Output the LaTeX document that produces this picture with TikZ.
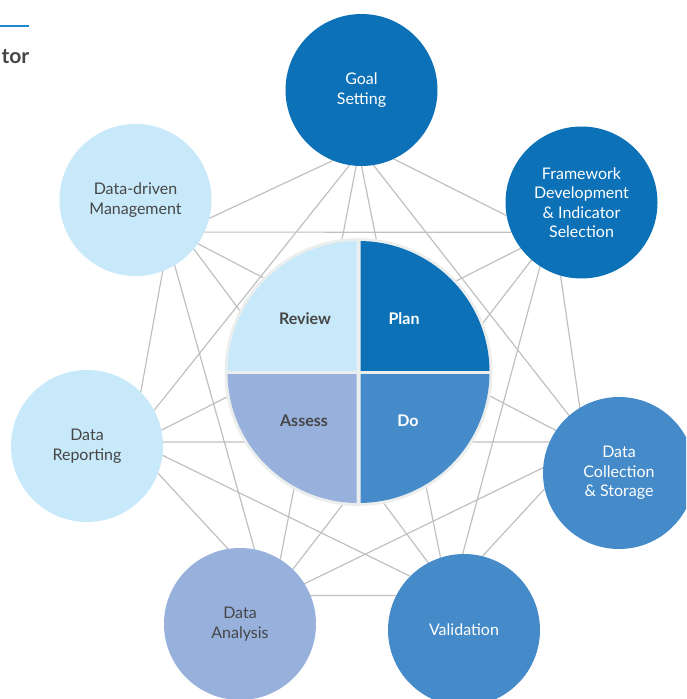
\documentclass[tikz,border=0pt]{standalone}
\usepackage{fontspec}
\setmainfont{Lato}
\usepackage{tikz}
\usetikzlibrary{backgrounds}
\definecolor{darkblue}{RGB}{13,113,183}
\definecolor{midblue}{RGB}{70,139,201}
\definecolor{lavender}{RGB}{151,177,220}
\definecolor{paleblue}{RGB}{200,233,249}
\definecolor{linegray}{RGB}{192,192,192}
\definecolor{ringgray}{RGB}{236,238,238}
\definecolor{textgray}{RGB}{70,70,70}
\definecolor{headblue}{RGB}{30,136,208}

\begin{document}
\begin{tikzpicture}[x=1pt, y=-1pt,
	bubble/.style={circle, minimum size=152pt, inner sep=0pt, outer sep=0pt, align=center, font=\fontsize{16}{19.5}\selectfont},
	link/.style={draw=linegray, line width=1.2pt},
	quarter/.style={inner sep=0pt, font=\bfseries\fontsize{16}{18}\selectfont}]
				\useasboundingbox (0,0) rectangle (686,699);
				\clip (0,0) rectangle (686,699);
				% header remnant
				\draw[headblue, line width=1.2pt] (0,26) -- (29,26);
				\node[anchor=base east, inner sep=0pt, text=textgray, font=\bfseries\fontsize{21}{24}\selectfont] (head) at (29.5,63) {tor};
				% outer ring of stages
				\node[bubble, fill=darkblue, text=white] (goal) at (361.5,90) {Goal\\Setting};
				\node[bubble, fill=darkblue, text=white] (frame) at (581.5,202.5) {Framework\\Development\\\& Indicator\\Selection};
				\node[bubble, fill=midblue, text=white] (coll) at (619,473) {Data\\Collection\\\& Storage};
				\node[bubble, fill=midblue, text=white] (valid) at (464,630) {Validation};
				\node[bubble, fill=lavender, text=textgray] (anal) at (240,624) {Data\\Analysis};
				\node[bubble, fill=paleblue, text=textgray] (rep) at (87,446) {Data\\Reporting};
				\node[bubble, fill=paleblue, text=textgray] (mgmt) at (135.5,200) {Data-driven\\Management};
				% every stage linked to every other
				\begin{scope}[on background layer]
					\foreach \a/\b in {goal.248/mgmt.-14, goal.261/rep.28, goal.266/anal.58, goal.270/valid.108,
						goal.279/coll.131, goal.295/frame.190, mgmt.-25/frame.203, mgmt.-35/coll.146,
						mgmt.-40/valid.118, mgmt.-59/anal.79, mgmt.-69/rep.45, frame.217/rep.12,
						rep.3/coll.156, rep.-7/valid.135, rep.-21/anal.99, frame.229/anal.46,
						frame.237/valid.91, frame.254/coll.121, coll.192/valid.76, coll.176/anal.32,
						valid.153/anal.22} {
						\draw[link] (\a) -- (\b);
					}
				\end{scope}
				% PDCA wheel
				\coordinate (hub) at (358.5,372);
				\fill[ringgray] (hub) circle (134);
				\foreach \x/\y/\col in {360.5/230/darkblue, 216/230/paleblue, 216/374/lavender, 360.5/374/midblue} {
					\begin{scope}
						\clip (\x,\y) rectangle ++(140.5,140);
						\fill[\col] (hub) circle (131);
					\end{scope}
				}
				\node[quarter, text=textgray] (review) at (305,319) {Review};
				\node[quarter, text=white] (plan) at (404,319) {Plan};
				\node[quarter, text=textgray] (assess) at (304,421) {Assess};
				\node[quarter, text=white] (do) at (408,421) {Do};
			\end{tikzpicture}
\end{document}
